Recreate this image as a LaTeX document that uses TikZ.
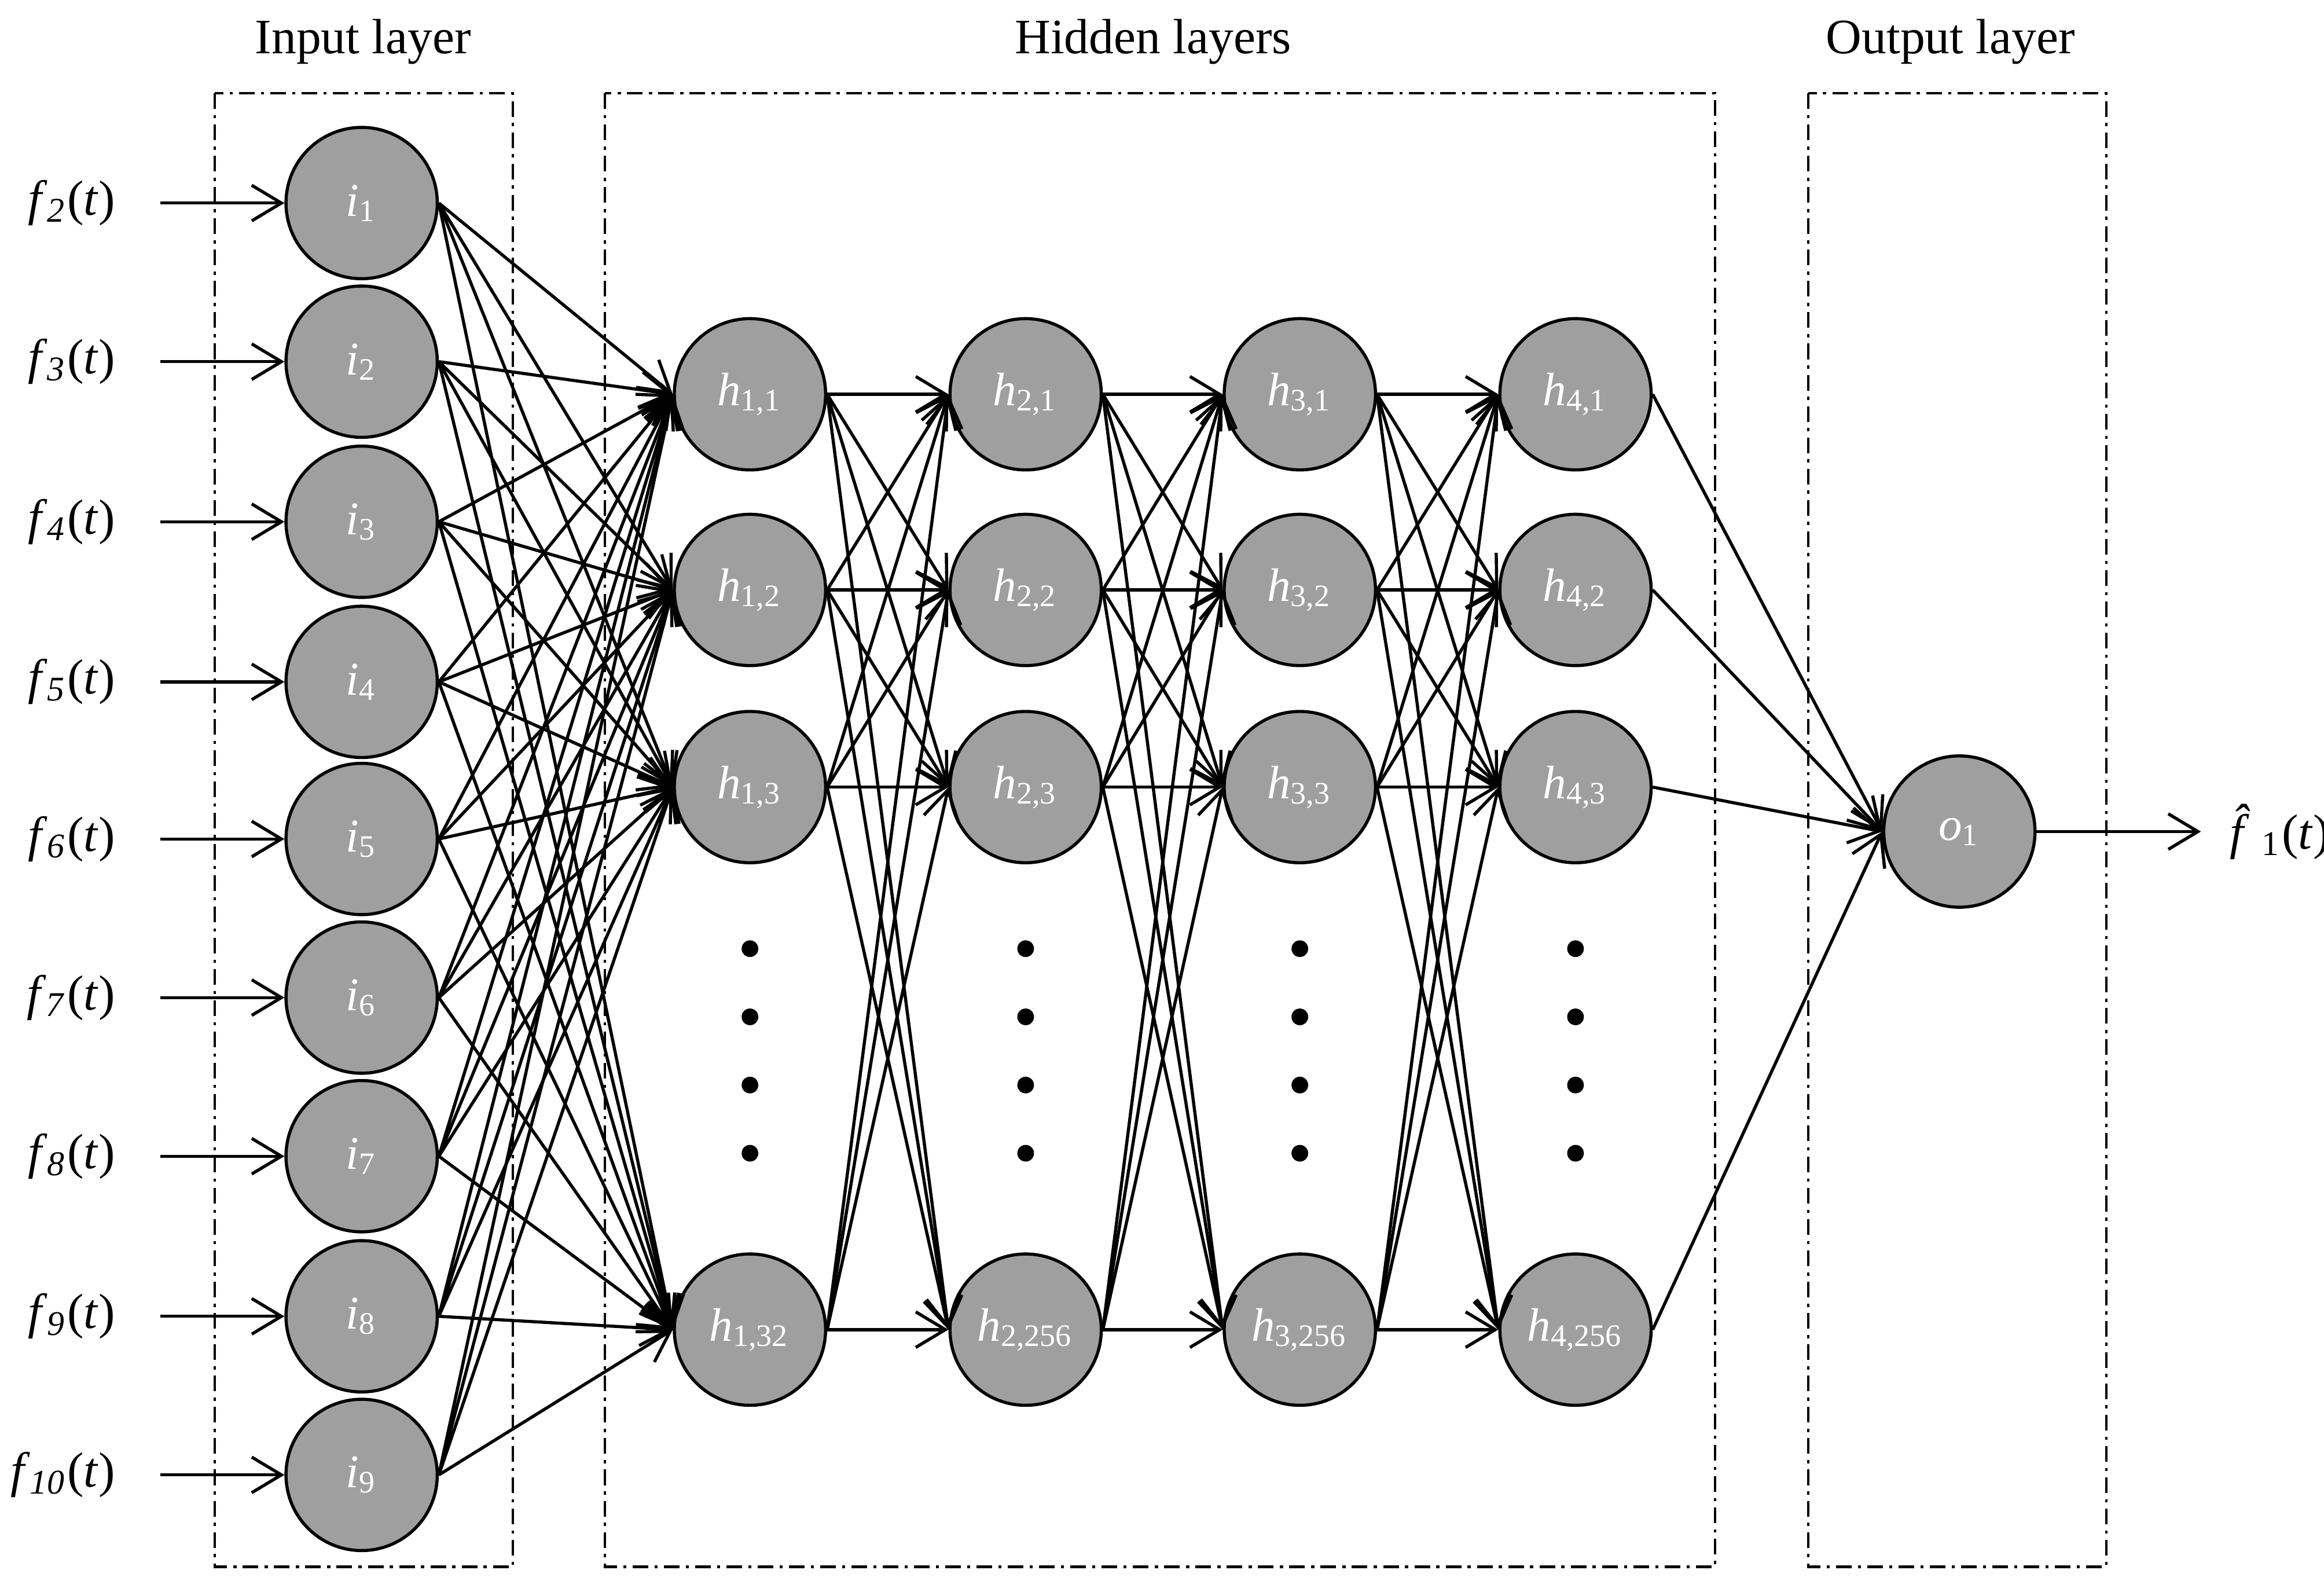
\documentclass[tikz,border=0pt]{standalone}
\usepackage{fontspec}
\setmainfont{Liberation Serif}
\usetikzlibrary{arrows.meta}
\begin{document}
\begin{tikzpicture}[x=0.01cm,y=-0.01cm,
  neuron/.style={circle,draw=black,line width=0.6pt,fill=gray!75,minimum size=1.02cm,inner sep=0pt,text=white,font=\fontsize{9}{10}\selectfont},
  conn/.style={line width=0.6pt,-{Straight Barb[length=2mm,width=2.4mm]}},
  lab/.style={font=\fontsize{9.5}{11}\selectfont},
  box/.style={draw,line width=0.45pt,dash pattern=on 3pt off 1.2pt on 0.6pt off 1.2pt}]
\useasboundingbox (0,0) rectangle (1568,1074);
% boxes
\draw[box] (145,63) rectangle (346,1057);
\draw[box] (408,63) rectangle (1157,1057);
\draw[box] (1220,63) rectangle (1421,1057);
\node[lab] (t1) at (245,28) {Input layer};
\node[lab] (t2) at (778,28) {Hidden layers};
\node[lab] (t3) at (1316,28) {Output layer};
% input nodes
\foreach \k/\y [count=\n] in {2/137,3/244,4/352,5/460,6/566,7/673,8/780,9/888,10/995}{
  \node[neuron] (i\n) at (244,\y) {\textit{i}\textsubscript{\n}};
  \node[lab,anchor=east] (f\n) at (90,\y) {\textit{f}\textsubscript{\textit{\k}}(\textit{t})};
  \coordinate (s\n) at (108,\y);
  \draw[conn] (s\n) -- (i\n.west);
}
% hidden nodes
\foreach \L/\x in {1/506,2/692,3/877,4/1063}{
  \foreach \j/\y in {1/266,2/398,3/531}{
    \node[neuron] (h\L\j) at (\x,\y) {\textit{h}\textsubscript{\L,\j}};
  }
  \foreach \y in {640,686,732,778}{\fill (\x,\y) circle (1.6pt);}
}
\node[neuron] (h14) at (506,897) {\textit{h}\textsubscript{1,32}};
\foreach \L/\x in {2/692,3/877,4/1063}{
  \node[neuron] (h\L4) at (\x,897) {\textit{h}\textsubscript{\L,256}};
}
\node[neuron] (o) at (1322,561) {\textit{o}\textsubscript{1}};
% connections
\foreach \a in {1,...,9}{\foreach \b in {1,...,4}{\draw[conn] (i\a.east) -- (h1\b.west);}}
\foreach \L/\M in {1/2,2/3,3/4}{
  \foreach \a in {1,...,4}{\foreach \b in {1,...,4}{\draw[conn] (h\L\a.east) -- (h\M\b.west);}}}
\foreach \a in {1,...,4}{\draw[conn] (h4\a.east) -- (o.west);}
\coordinate (oe) at (1485,561);
\draw[conn] (o.east) -- (oe);
\node[lab,anchor=west] (fo) at (1492,561) {\textit{\^f}\textsubscript{1}(\textit{t})};
\end{tikzpicture}
\end{document}
